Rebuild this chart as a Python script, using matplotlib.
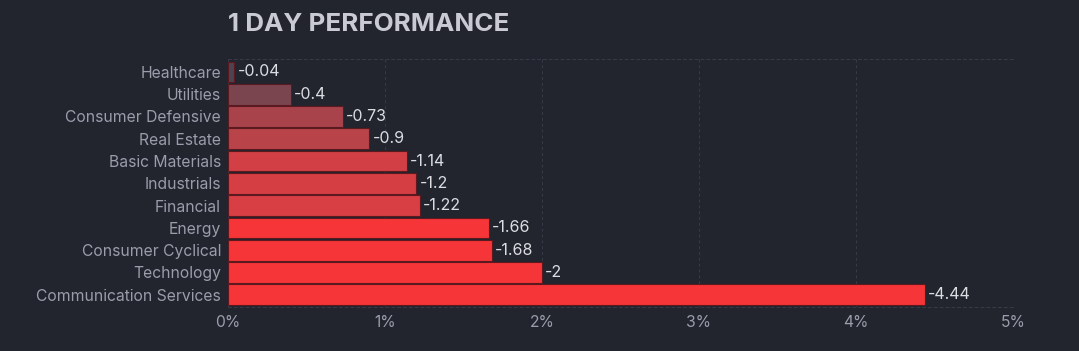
import matplotlib
matplotlib.use("Agg")
import matplotlib.pyplot as plt
from matplotlib.ticker import FuncFormatter

sectors = ["Healthcare", "Utilities", "Consumer Defensive", "Real Estate",
           "Basic Materials", "Industrials", "Financial", "Energy",
           "Consumer Cyclical", "Technology", "Communication Services"]
changes = [-0.04, -0.4, -0.73, -0.9, -1.14, -1.2, -1.22, -1.66, -1.68, -2, -4.44]
bar_colors = ["#4d4450", "#7b4550", "#a8434c", "#b8444a", "#d24045", "#d53f44",
              "#d73f44", "#f63538", "#f63538", "#f63538", "#f63538"]
xticks = [0, 1, 2, 3, 4, 5]

plt.rcParams['font.family'] = ['Inter', 'DejaVu Sans']
bg = "#22252e"
fig = plt.figure(figsize=(10.79, 3.51), dpi=100, facecolor=bg)
ax = fig.add_axes([0.2113, 0.1254, 0.7275, 0.7065], facecolor=bg)

ypos = list(range(len(sectors)))
widths = [abs(v) for v in changes]
ax.barh(ypos, widths, height=0.93, color=bar_colors, edgecolor="#5a1a1f",
        linewidth=0.8, zorder=3)
for y, w, v in zip(ypos, widths, changes):
    ax.text(w + 0.02, y, f"{v:g}", va="center", ha="left", color="#dcdde3",
            fontsize=11.5, zorder=4)

ax.set_xlim(0, 5)
ax.set_ylim(10.55, -0.58)
ax.set_yticks(ypos)
ax.set_yticklabels(sectors)
ax.set_xticks(xticks)
ax.xaxis.set_major_formatter(FuncFormatter(lambda x, p: f"{x:g}%"))
ax.tick_params(axis="both", length=0, colors="#9a9daa", labelsize=11.3)
ax.tick_params(axis="y", pad=5)
ax.tick_params(axis="x", pad=6)
gridc = "#373b47"
ax.grid(axis="x", color=gridc, linestyle=(0, (3, 3)), linewidth=0.7, zorder=0)
for s in ["left", "right"]:
    ax.spines[s].set_visible(False)
for s in ["top", "bottom"]:
    ax.spines[s].set_color(gridc)
    ax.spines[s].set_linestyle((0, (3, 3)))
    ax.spines[s].set_linewidth(0.7)

fig.text(0.2113, 0.93, "1 DAY PERFORMANCE", color="#c9cad4", fontsize=18.7,
         fontweight="bold", ha="left", va="center")

fig.savefig("out.png", dpi=100, facecolor=bg)
